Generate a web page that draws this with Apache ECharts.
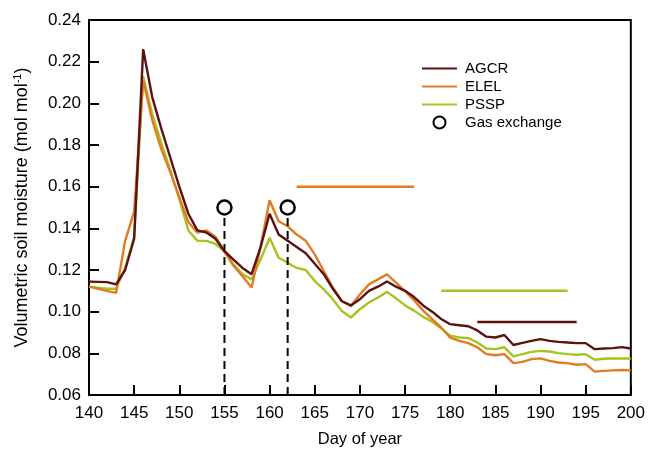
<!DOCTYPE html>
<html>
<head>
<meta charset="utf-8">
<script src="https://cdn.jsdelivr.net/npm/echarts@6/dist/echarts.min.js"></script>
<style>
	html, body { margin: 0; padding: 0; background: #fff; }
	#chartmain { width: 648px; height: 460px; }
</style>
</head>
<body>
<div id="chartmain"></div>
<script>
// day of year 140 .. 200
var days = [];
for (var d = 140; d <= 200; d++) days.push(d);

var agcr = [0.1144, 0.1143, 0.1142, 0.1131, 0.120, 0.135, 0.226, 0.203, 0.188, 0.174,
	0.160, 0.147, 0.139, 0.138, 0.135, 0.129, 0.125, 0.121, 0.118, 0.131,
	0.147, 0.137, 0.134, 0.131, 0.128, 0.123, 0.118, 0.111, 0.105, 0.103,
	0.106, 0.110, 0.112, 0.1145, 0.112, 0.110, 0.107, 0.103, 0.100, 0.0965,
	0.094, 0.0935, 0.093, 0.091, 0.088, 0.0876, 0.0888, 0.084, 0.085, 0.086,
	0.0868, 0.086, 0.0855, 0.0852, 0.0849, 0.0849, 0.082, 0.0823, 0.0825, 0.083,
	0.0823];
var elel = [0.112, 0.111, 0.110, 0.109, 0.134, 0.148, 0.211, 0.192, 0.178, 0.167,
	0.155, 0.143, 0.138, 0.139, 0.136, 0.129, 0.122, 0.117, 0.1116, 0.131,
	0.1535, 0.1434, 0.141, 0.137, 0.134, 0.1275, 0.1195, 0.1116, 0.1051, 0.1027,
	0.1083, 0.1131, 0.1155, 0.1179, 0.1139, 0.1099, 0.1055, 0.1005, 0.0964, 0.0924,
	0.0875, 0.086, 0.0849, 0.0829, 0.0796, 0.0791, 0.0796, 0.0753, 0.0759, 0.0772,
	0.0776, 0.0764, 0.0756, 0.0753, 0.0745, 0.0748, 0.0712, 0.0716, 0.0718, 0.072,
	0.0718];
var pssp = [0.112, 0.1115, 0.111, 0.111, 0.121, 0.136, 0.213, 0.195, 0.181, 0.168,
	0.154, 0.139, 0.134, 0.134, 0.1325, 0.129, 0.1227, 0.118, 0.1155, 0.125,
	0.1355, 0.1259, 0.1235, 0.121, 0.120, 0.1147, 0.1107, 0.106, 0.1003, 0.0972,
	0.1012, 0.1044, 0.1068, 0.1095, 0.1064, 0.103, 0.1005, 0.0975, 0.0952, 0.092,
	0.0885, 0.0876, 0.0873, 0.0852, 0.0823, 0.082, 0.0829, 0.0785, 0.0796, 0.0807,
	0.0812, 0.0809, 0.0801, 0.0796, 0.0793, 0.0796, 0.0769, 0.0774, 0.0775, 0.0776,
	0.0775];

// gas exchange sampling days
var gasDays = [155, 162];
var gasLevel = 0.15;
var gasLineTop = 0.1455;

// horizontal bars: [start day, end day, level]
var barAgcr = [183, 194, 0.095];
var barElel = [163, 176, 0.160];
var barPssp = [179, 193, 0.110];

var colAgcr = '#5b1212';
var colElel = '#e27b24';
var colPssp = '#a8c21e';
var font = 'Liberation Sans, Arial, sans-serif';

function pairs(vals) {
	var out = [];
	for (var i = 0; i < days.length; i++) out.push([days[i], vals[i]]);
	return out;
}
function bar(b) {
	return [[b[0], b[2]], [b[1], b[2]]];
}

var series = [
	{ name: 'AGCR', type: 'line', data: pairs(agcr), symbol: 'none', lineStyle: { color: colAgcr, width: 2.4 }, itemStyle: { color: colAgcr }, z: 4 },
	{ name: 'ELEL', type: 'line', data: pairs(elel), symbol: 'none', lineStyle: { color: colElel, width: 2.4 }, itemStyle: { color: colElel }, z: 3 },
	{ name: 'PSSP', type: 'line', data: pairs(pssp), symbol: 'none', lineStyle: { color: colPssp, width: 2.4 }, itemStyle: { color: colPssp }, z: 2 },
	{ name: 'barA', type: 'line', data: bar(barAgcr), symbol: 'none', lineStyle: { color: colAgcr, width: 2.5 } },
	{ name: 'barE', type: 'line', data: bar(barElel), symbol: 'none', lineStyle: { color: colElel, width: 2.5 } },
	{ name: 'barP', type: 'line', data: bar(barPssp), symbol: 'none', lineStyle: { color: colPssp, width: 2.5 } }
];
for (var g = 0; g < gasDays.length; g++) {
	series.push({
		name: 'gasline' + g, type: 'line', symbol: 'none',
		data: [[gasDays[g], 0.06], [gasDays[g], gasLineTop]],
		lineStyle: { color: '#000', width: 2, type: [8, 5] }
	});
}
series.push({
	name: 'Gas exchange', type: 'scatter', symbol: 'circle', symbolSize: 14,
	data: gasDays.map(function (d) { return [d, gasLevel]; }),
	itemStyle: { color: '#fff', borderColor: '#000', borderWidth: 2.5, opacity: 1 },
	z: 6
});

// line entries in the legend show only the stroke, no dot
var noDot = { opacity: 0 };

var option = {
	animation: false,
	backgroundColor: '#fff',
	grid: {
		left: 89, right: 17, top: 20, bottom: 65,
		show: true, borderColor: '#000', borderWidth: 2
	},
	legend: {
		orient: 'vertical',
		left: 421,
		top: 61,
		padding: 0,
		itemWidth: 35,
		itemHeight: 12,
		itemGap: 3,
		textStyle: { fontSize: 15, fontFamily: font, color: '#000', padding: [0, 0, 0, 3] },
		data: [
			{ name: 'AGCR', itemStyle: noDot },
			{ name: 'ELEL', itemStyle: noDot },
			{ name: 'PSSP', itemStyle: noDot },
			'Gas exchange'
		]
	},
	xAxis: {
		type: 'value',
		min: 140, max: 200, interval: 5,
		name: 'Day of year',
		nameLocation: 'middle',
		nameGap: 36,
		nameTextStyle: { fontSize: 16.5, fontFamily: font, color: '#000' },
		axisLine: { lineStyle: { color: '#000', width: 2 } },
		axisTick: { inside: true, length: 10, lineStyle: { color: '#000', width: 2 } },
		axisLabel: { margin: 10, fontSize: 17, fontFamily: font, color: '#000' },
		splitLine: { show: false }
	},
	yAxis: {
		type: 'value',
		min: 0.06, max: 0.24, interval: 0.02,
		name: 'Volumetric soil moisture (mol mol{sup|-1})',
		nameLocation: 'middle',
		nameGap: 57,
		nameTextStyle: {
			fontSize: 18, fontFamily: font, color: '#000',
			rich: { sup: { fontSize: 11, fontFamily: font, color: '#000', verticalAlign: 'top', lineHeight: 20 } }
		},
		axisLine: { lineStyle: { color: '#000', width: 2 } },
		axisTick: { inside: true, length: 10, lineStyle: { color: '#000', width: 2 } },
		axisLabel: {
			margin: 8, fontSize: 17, fontFamily: font, color: '#000',
			formatter: function (v) { return v.toFixed(2); }
		},
		splitLine: { show: false }
	},
	series: series
};

var myChart = echarts.init(document.getElementById('chartmain'));
myChart.setOption(option);
</script>
</body>
</html>
